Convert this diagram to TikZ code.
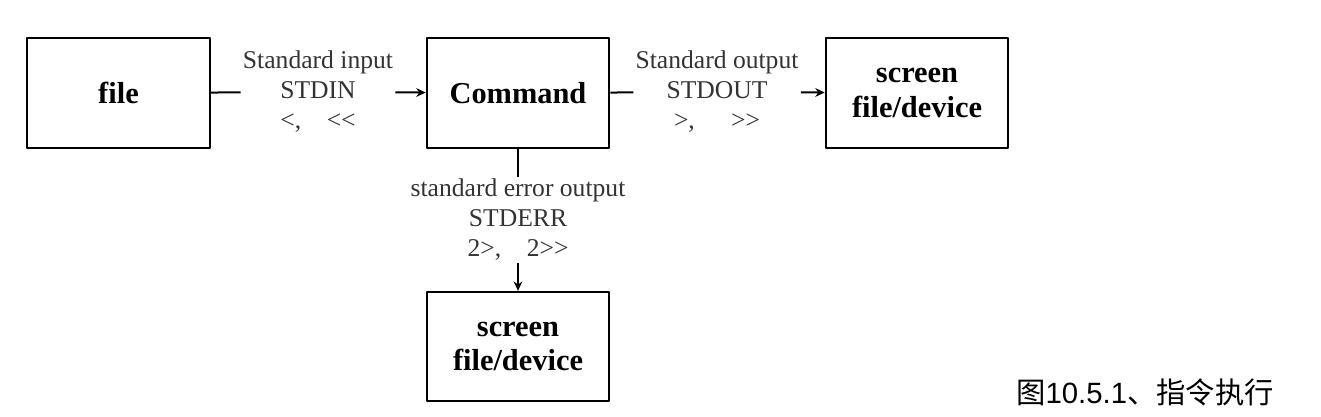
\documentclass[tikz,border=0pt]{standalone}
\usepackage{fontspec}
\usetikzlibrary{arrows.meta}
\setmainfont{Liberation Serif}
\newfontfamily\cjk{Noto Sans CJK SC}
\newfontfamily\arial{Liberation Sans}
\begin{document}
\begin{tikzpicture}[x=0.75pt, y=-0.75pt, line join=round, >={Stealth[length=7pt,width=6.5pt]}, line width=1.5pt,
	box/.style={draw, minimum width=137pt, minimum height=82pt, align=center,
		font=\fontsize{22.8}{26}\selectfont\bfseries},
	lbl/.style={align=center, inner sep=1pt, text=black!80,
		font=\fontsize{19.2}{22.5}\selectfont}]
	\useasboundingbox (0,0) rectangle (1321,417);
	\path
	(118.5,93) coordinate (F)
	(518,93) coordinate (C)
	(917,93) coordinate (S)
	(518,346.5) coordinate (D)
	(318,92) coordinate (I)
	(717,92) coordinate (O)
	(518,220) coordinate (E)
	;
	\node[box] (file) at (F) {file};
	\node[box] (cmd) at (C) {Command};
	\node[box] (scr) at (S) {screen\\file/device};
	\node[box] (dev) at (D) {screen\\file/device};
	\node[lbl] (inlbl) at (I) {Standard input\\STDIN\\<,\quad <\kern0pt<};
	\node[lbl] (outlbl) at (O) {Standard output\\STDOUT\\>,\quad\ \,>\kern0pt>};
	\node[lbl] (errlbl) at (E) {standard error output\\STDERR\\2>,\quad 2>\kern0pt>};
	\foreach \x/\y in {file/inlbl,cmd/outlbl,cmd/errlbl}
	\draw (\x)--(\y);
	\foreach \x/\y in {inlbl/cmd,outlbl/scr,errlbl/dev}
	\draw[->] (\x)--(\y);
	\node[font=\fontsize{22}{25}\selectfont] (cap) at (1145,392) {\cjk 图\arial 10.5.1\cjk 、指令执行};
\end{tikzpicture}
\end{document}
